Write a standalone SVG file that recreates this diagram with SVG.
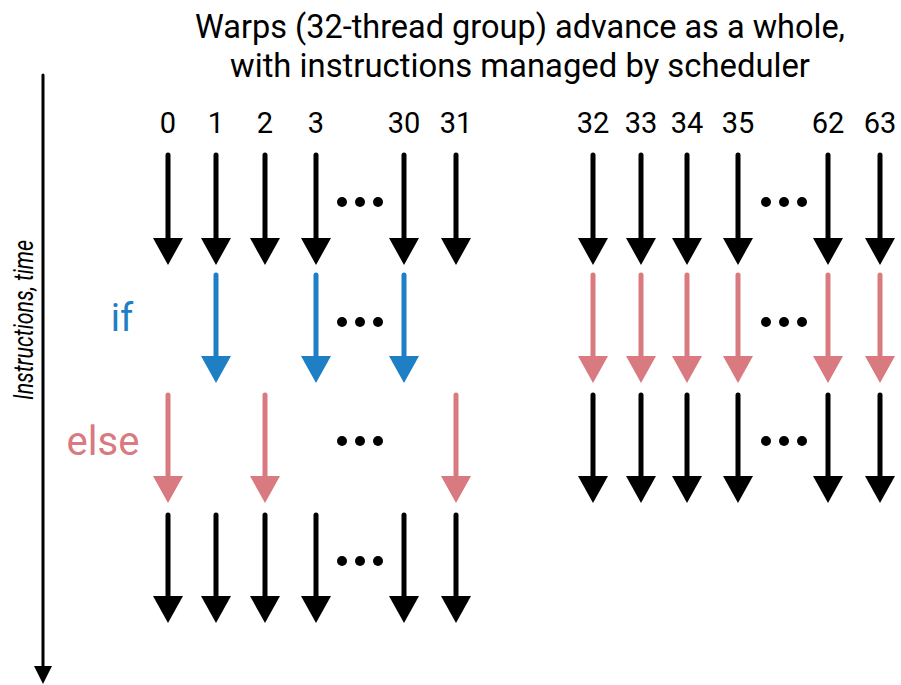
<svg xmlns="http://www.w3.org/2000/svg" width="901" height="685" viewBox="0 0 901 685">
<style>
text{font-family:Roboto,"Liberation Sans",sans-serif;fill:#000}
.n{font-size:29px;text-anchor:middle}
.t{font-size:33px;text-anchor:middle}
.k{stroke:#000}.b{stroke:#1f7fc4}.p{stroke:#d97a80}
line{stroke-width:5;stroke-linecap:round}
.hk{fill:#000}.hb{fill:#1f7fc4}.hp{fill:#d97a80}
</style>
<defs>
<g id="dots"><circle cx="0" cy="0" r="5"/><circle cx="18" cy="0" r="5"/><circle cx="36" cy="0" r="5"/></g>
</defs>
<g id="title">
<text class="t" x="520" y="38" textLength="650" lengthAdjust="spacingAndGlyphs">Warps (32-thread group) advance as a whole,</text>
<text class="t" x="520" y="77" textLength="580" lengthAdjust="spacingAndGlyphs">with instructions managed by scheduler</text>
</g>
<g id="labels">
<text class="n" x="168" y="133">0</text><text class="n" x="216" y="133">1</text><text class="n" x="265" y="133">2</text><text class="n" x="316" y="133">3</text><text class="n" x="404" y="133">30</text><text class="n" x="456" y="133">31</text>
<text class="n" x="593" y="133">32</text><text class="n" x="641" y="133">33</text><text class="n" x="687" y="133">34</text><text class="n" x="738" y="133">35</text><text class="n" x="828" y="133">62</text><text class="n" x="880" y="133">63</text>
<text x="122" y="331" style="font-size:38px;fill:#1f7fc4;text-anchor:middle">if</text>
<text x="103" y="455" style="font-size:40px;fill:#d97a80;text-anchor:middle">else</text>
<text transform="translate(33,320) rotate(-90)" textLength="160" lengthAdjust="spacingAndGlyphs" style="font-size:28px;font-style:italic;text-anchor:middle">Instructions, time</text>
</g>
<g id="axis"><line x1="43" y1="75" x2="43" y2="668" class="k" style="stroke-width:3"/><polygon points="34,666 52,666 43,684" class="hk"/></g>
<g id="dotsall">
<use href="#dots" x="342" y="202"/><use href="#dots" x="342" y="322"/><use href="#dots" x="342" y="441"/><use href="#dots" x="342" y="561"/>
<use href="#dots" x="766" y="202"/><use href="#dots" x="766" y="322"/><use href="#dots" x="766" y="441"/>
</g>
<g id="connectors">
<g id="r1">
<line x1="168" y1="155" x2="168" y2="242" class="k"/><polygon points="153,238 183,238 168,265" class="hk"/>
<line x1="216" y1="155" x2="216" y2="242" class="k"/><polygon points="201,238 231,238 216,265" class="hk"/>
<line x1="265" y1="155" x2="265" y2="242" class="k"/><polygon points="250,238 280,238 265,265" class="hk"/>
<line x1="316" y1="155" x2="316" y2="242" class="k"/><polygon points="301,238 331,238 316,265" class="hk"/>
<line x1="404" y1="155" x2="404" y2="242" class="k"/><polygon points="389,238 419,238 404,265" class="hk"/>
<line x1="456" y1="155" x2="456" y2="242" class="k"/><polygon points="441,238 471,238 456,265" class="hk"/>
<line x1="593" y1="155" x2="593" y2="242" class="k"/><polygon points="578,238 608,238 593,265" class="hk"/>
<line x1="641" y1="155" x2="641" y2="242" class="k"/><polygon points="626,238 656,238 641,265" class="hk"/>
<line x1="687" y1="155" x2="687" y2="242" class="k"/><polygon points="672,238 702,238 687,265" class="hk"/>
<line x1="738" y1="155" x2="738" y2="242" class="k"/><polygon points="723,238 753,238 738,265" class="hk"/>
<line x1="828" y1="155" x2="828" y2="242" class="k"/><polygon points="813,238 843,238 828,265" class="hk"/>
<line x1="880" y1="155" x2="880" y2="242" class="k"/><polygon points="865,238 895,238 880,265" class="hk"/>
</g>
<g id="r2">
<line x1="216" y1="275" x2="216" y2="360" class="b"/><polygon points="201,356 231,356 216,383" class="hb"/>
<line x1="316" y1="275" x2="316" y2="360" class="b"/><polygon points="301,356 331,356 316,383" class="hb"/>
<line x1="404" y1="275" x2="404" y2="360" class="b"/><polygon points="389,356 419,356 404,383" class="hb"/>
<line x1="593" y1="275" x2="593" y2="360" class="p"/><polygon points="578,356 608,356 593,383" class="hp"/>
<line x1="641" y1="275" x2="641" y2="360" class="p"/><polygon points="626,356 656,356 641,383" class="hp"/>
<line x1="687" y1="275" x2="687" y2="360" class="p"/><polygon points="672,356 702,356 687,383" class="hp"/>
<line x1="738" y1="275" x2="738" y2="360" class="p"/><polygon points="723,356 753,356 738,383" class="hp"/>
<line x1="828" y1="275" x2="828" y2="360" class="p"/><polygon points="813,356 843,356 828,383" class="hp"/>
<line x1="880" y1="275" x2="880" y2="360" class="p"/><polygon points="865,356 895,356 880,383" class="hp"/>
</g>
<g id="r3">
<line x1="168" y1="395" x2="168" y2="480" class="p"/><polygon points="153,476 183,476 168,503" class="hp"/>
<line x1="265" y1="395" x2="265" y2="480" class="p"/><polygon points="250,476 280,476 265,503" class="hp"/>
<line x1="456" y1="395" x2="456" y2="480" class="p"/><polygon points="441,476 471,476 456,503" class="hp"/>
<line x1="593" y1="395" x2="593" y2="480" class="k"/><polygon points="578,476 608,476 593,503" class="hk"/>
<line x1="641" y1="395" x2="641" y2="480" class="k"/><polygon points="626,476 656,476 641,503" class="hk"/>
<line x1="687" y1="395" x2="687" y2="480" class="k"/><polygon points="672,476 702,476 687,503" class="hk"/>
<line x1="738" y1="395" x2="738" y2="480" class="k"/><polygon points="723,476 753,476 738,503" class="hk"/>
<line x1="828" y1="395" x2="828" y2="480" class="k"/><polygon points="813,476 843,476 828,503" class="hk"/>
<line x1="880" y1="395" x2="880" y2="480" class="k"/><polygon points="865,476 895,476 880,503" class="hk"/>
</g>
<g id="r4">
<line x1="168" y1="515" x2="168" y2="600" class="k"/><polygon points="153,596 183,596 168,623" class="hk"/>
<line x1="216" y1="515" x2="216" y2="600" class="k"/><polygon points="201,596 231,596 216,623" class="hk"/>
<line x1="265" y1="515" x2="265" y2="600" class="k"/><polygon points="250,596 280,596 265,623" class="hk"/>
<line x1="316" y1="515" x2="316" y2="600" class="k"/><polygon points="301,596 331,596 316,623" class="hk"/>
<line x1="404" y1="515" x2="404" y2="600" class="k"/><polygon points="389,596 419,596 404,623" class="hk"/>
<line x1="456" y1="515" x2="456" y2="600" class="k"/><polygon points="441,596 471,596 456,623" class="hk"/>
</g>
</g>
</svg>
